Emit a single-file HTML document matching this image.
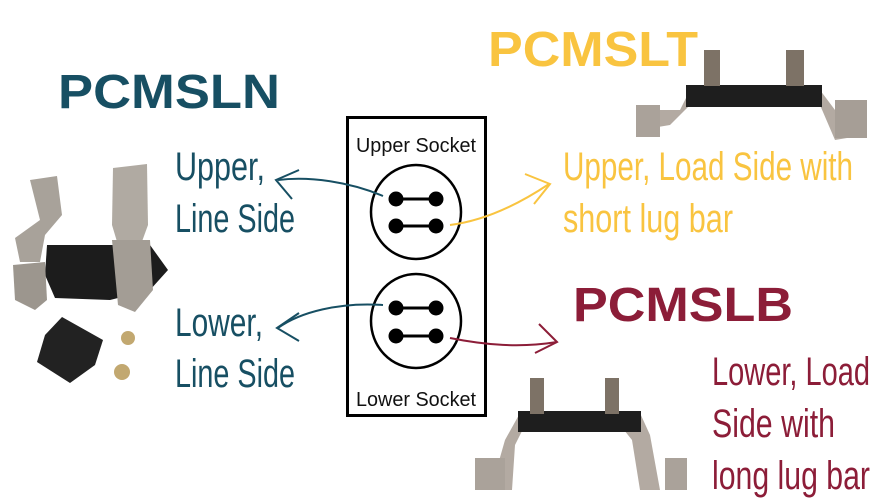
<!DOCTYPE html>
<html><head><meta charset="utf-8"><style>
html,body{margin:0;padding:0;background:#fff;}
svg{display:block}
.t{font-family:"Liberation Sans",sans-serif;font-weight:bold;}
.c{font-family:"Liberation Sans",sans-serif;}
</style></head><body>
<svg width="896" height="504" viewBox="0 0 896 504" xmlns="http://www.w3.org/2000/svg">
<rect width="896" height="504" fill="#fff"/>
<!-- titles -->
<text class="t" x="58" y="108" font-size="48" fill="#174f63" textLength="222" lengthAdjust="spacingAndGlyphs">PCMSLN</text>
<text class="t" x="488" y="66" font-size="49" fill="#f9c440" textLength="210" lengthAdjust="spacingAndGlyphs">PCMSLT</text>
<text class="t" x="573" y="321" font-size="48" fill="#8c1d38" textLength="220" lengthAdjust="spacingAndGlyphs">PCMSLB</text>

<!-- left photo approx -->
<g>
<polygon points="30,180 57,176 62,215 45,235 40,262 20,262 15,238 40,220" fill="#a8a29a"/>
<polygon points="113,168 147,164 148,225 140,247 118,245 112,225" fill="#b0aaa2"/>
<polygon points="47,245 150,245 168,270 150,290 110,300 55,298 45,275" fill="#1c1c1c"/>
<polygon points="13,265 45,262 47,300 35,310 15,300" fill="#9c968e"/>
<polygon points="112,240 150,240 153,290 135,312 118,305" fill="#a39d95"/>
<polygon points="62,317 103,340 95,365 70,383 37,362 45,335" fill="#222"/>
<circle cx="128" cy="338" r="7" fill="#c2a870"/>
<circle cx="122" cy="372" r="8" fill="#c2a870"/>
</g>
<!-- top right photo approx -->
<g>
<polygon points="640,110 680,110 690,90 820,90 835,110 860,112 865,135 835,140 820,105 690,105 670,125 640,130" fill="#b3aaa2"/>
<rect x="686" y="85" width="136" height="22" fill="#1e1e1e"/>
<rect x="704" y="50" width="16" height="36" fill="#7d7266"/>
<rect x="786" y="50" width="18" height="36" fill="#7d7266"/>
<rect x="636" y="105" width="24" height="32" fill="#aaa29a"/>
<rect x="835" y="100" width="32" height="38" fill="#a69e96"/>
</g>
<!-- bottom photo approx -->
<g>
<polygon points="495,475 505,440 520,413 640,413 650,435 660,490 640,490 632,440 620,425 525,425 515,445 512,490 490,490" fill="#b3aaa2"/>
<rect x="518" y="411" width="123" height="21" fill="#1e1e1e"/>
<rect x="530" y="378" width="14" height="36" fill="#7d7266"/>
<rect x="605" y="378" width="14" height="36" fill="#7d7266"/>
<rect x="475" y="458" width="30" height="32" fill="#aaa29a"/>
<rect x="665" y="458" width="22" height="32" fill="#aaa29a"/>
</g>

<!-- socket box -->
<rect x="347.5" y="117.5" width="138" height="298" fill="#fff" stroke="#000" stroke-width="3"/>
<text class="c" x="416" y="152" font-size="20" text-anchor="middle" textLength="120" lengthAdjust="spacingAndGlyphs" fill="#111">Upper Socket</text>
<text class="c" x="416" y="406" font-size="20" text-anchor="middle" textLength="120" lengthAdjust="spacingAndGlyphs" fill="#111">Lower Socket</text>
<ellipse cx="416" cy="212" rx="45" ry="47" fill="none" stroke="#000" stroke-width="2.5"/>
<ellipse cx="416" cy="321" rx="45" ry="47" fill="none" stroke="#000" stroke-width="2.5"/>
<g fill="#000" stroke="#000" stroke-width="3">
<line x1="396" y1="199" x2="436" y2="199"/><line x1="396" y1="226" x2="436" y2="226"/>
<line x1="396" y1="308" x2="436" y2="308"/><line x1="396" y1="336" x2="436" y2="336"/>
<circle cx="396" cy="199" r="6"/><circle cx="436" cy="199" r="6"/>
<circle cx="396" cy="226" r="6"/><circle cx="436" cy="226" r="6"/>
<circle cx="396" cy="308" r="6"/><circle cx="436" cy="308" r="6"/>
<circle cx="396" cy="336" r="6"/><circle cx="436" cy="336" r="6"/>
</g>

<!-- arrows -->
<g fill="none" stroke-width="2">
<path d="M383,196 C350,182 310,176 278,180" stroke="#174f63"/>
<path d="M299,170 L276,180 L292,199" stroke="#174f63"/>
<path d="M383,305 C340,302 300,312 278,328" stroke="#174f63"/>
<path d="M299,313 L277,328 L299,341" stroke="#174f63"/>
<path d="M450,225 C490,220 525,200 549,184" stroke="#f9c440"/>
<path d="M525,174 L550,184 L534,204" stroke="#f9c440"/>
<path d="M450,338 C485,345 520,348 557,342" stroke="#8c1d38"/>
<path d="M539,324 L557,342 L535,353" stroke="#8c1d38"/>
</g>

<!-- labels -->
<g class="c" font-size="40">
<text x="175" y="180" fill="#174f63" textLength="90" lengthAdjust="spacingAndGlyphs">Upper,</text>
<text x="175" y="232" fill="#174f63" textLength="120" lengthAdjust="spacingAndGlyphs">Line Side</text>
<text x="175" y="336" fill="#174f63" textLength="88" lengthAdjust="spacingAndGlyphs">Lower,</text>
<text x="175" y="387" fill="#174f63" textLength="120" lengthAdjust="spacingAndGlyphs">Line Side</text>
<text x="563" y="180" fill="#f9c440" textLength="290" lengthAdjust="spacingAndGlyphs">Upper, Load Side with</text>
<text x="563" y="232" fill="#f9c440" textLength="170" lengthAdjust="spacingAndGlyphs">short lug bar</text>
<text x="712" y="385" fill="#8c1d38" textLength="158" lengthAdjust="spacingAndGlyphs">Lower, Load</text>
<text x="712" y="437" fill="#8c1d38" textLength="123" lengthAdjust="spacingAndGlyphs">Side with</text>
<text x="712" y="489" fill="#8c1d38" textLength="158" lengthAdjust="spacingAndGlyphs">long lug bar</text>
</g>
</svg>
</body></html>
